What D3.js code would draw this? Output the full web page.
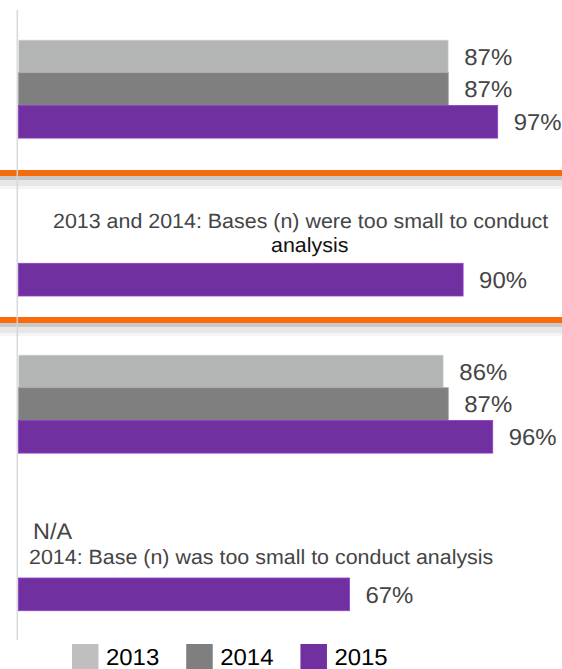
<!DOCTYPE html>
<html>
<head>
<meta charset="utf-8">
<script src="https://cdn.jsdelivr.net/npm/d3@7"></script>
<style>
  html, body { margin: 0; padding: 0; background: #ffffff; }
  svg { display: block; }
  text { font-family: "Liberation Sans", Arial, Helvetica, sans-serif; text-rendering: geometricPrecision; }
</style>
</head>
<body>
<svg id="chart" width="562" height="669"></svg>
<script>
// ---- data ----
const series = ["2013", "2014", "2015"];
const rows = ["row1", "row2", "row3", "row4"];
const values2013 = [87, null, 86, null];
const values2014 = [87, null, 87, null];
const values2015 = [97, 90, 96, 67];
const rowNotes = [
  [],
  [{ text: "2013 and 2014: Bases (n) were too small to conduct", dark: false, size: 20.6 },
   { text: "analysis", dark: true, size: 20.6 }],
  [],
  [{ text: "N/A", dark: false, size: 22.5 },
   { text: "2014: Base (n) was too small to conduct analysis", dark: false, size: 20.6 }]
];
const legendLabels = ["2013", "2014", "2015"];
const seriesColors = ["#b3b5b5", "#7f7f7f", "#7030a0"];

// ---- layout ----
const W = 562, H = 669;
const axisX = 17.3;
const barH = 32.7;
const rowBarTop = [40, 263.3, 355, 578];        // top of each row's bar block
const rowNoteLines = [                          // [x, baseline] for note lines
  [],
  [[53, 228], [271, 251.5]],
  [],
  [[33, 538.5], [29, 564]]
];
const separators = [170, 317];                  // orange rules between rows
const stretch = 1.04;                           // slight horizontal text stretch

const svg = d3.select("#chart");

const x = d3.scaleLinear().domain([0, 100]).range([18.5, 512.5]);
const color = d3.scaleOrdinal().domain(series).range(seriesColors);

const valuesBySeries = { "2013": values2013, "2014": values2014, "2015": values2015 };

// place a text with its anchor at (tx, ty) and a small horizontal stretch
function stretchedText(sel, tx, ty) {
  return sel.attr("transform", `translate(${tx},${ty}) scale(${stretch},1)`);
}

// ---- separators (orange rule with soft grey shadow below) ----
const sepG = svg.append("g");
separators.forEach(y0 => {
  sepG.append("rect").attr("x", 0).attr("y", y0 + 6).attr("width", W).attr("height", 4).attr("fill", "#c9c9c9");
  sepG.append("rect").attr("x", 0).attr("y", y0 + 10).attr("width", W).attr("height", 6).attr("fill", "#e7e7e7");
  sepG.append("rect").attr("x", 0).attr("y", y0 + 16).attr("width", W).attr("height", 3).attr("fill", "#f5f5f5");
  sepG.append("rect").attr("x", 0).attr("y", y0).attr("width", W).attr("height", 6).attr("fill", "#f66c0c");
});

// ---- vertical axis line ----
svg.append("line")
  .attr("x1", axisX).attr("x2", axisX)
  .attr("y1", 10).attr("y2", 640)
  .attr("stroke", "#d6d6d6").attr("stroke-width", 1.6)
  .attr("stroke-opacity", 0.9);

// ---- bars per row ----
rows.forEach((row, i) => {
  const present = series.filter(s => valuesBySeries[s][i] != null);
  const y = d3.scaleBand()
    .domain(present)
    .range([rowBarTop[i], rowBarTop[i] + barH * present.length])
    .paddingInner(0).paddingOuter(0);

  const data = present.map(s => ({ s, v: valuesBySeries[s][i] }));
  const g = svg.append("g").attr("class", "row " + row);

  g.selectAll("rect").data(data).join("rect")
    .attr("x", x(0))
    .attr("y", d => y(d.s))
    .attr("width", d => x(d.v) - x(0))
    .attr("height", y.bandwidth())
    .attr("fill", d => color(d.s))
    .attr("stroke", d => d3.color(color(d.s)).brighter(0.7))
    .attr("stroke-width", 0.8);

  g.selectAll("text.val").data(data).join("text")
    .attr("class", "val")
    .attr("font-size", 23)
    .attr("fill", "#454545")
    .text(d => d.v + "%")
    .each(function (d) {
      stretchedText(d3.select(this), x(d.v) + 16, y(d.s) + y.bandwidth() / 2 + 8.3);
    });

  rowNotes[i].forEach((note, k) => {
    const [nx, ny] = rowNoteLines[i][k];
    stretchedText(
      g.append("text")
        .attr("font-size", note.size)
        .attr("fill", note.dark ? "#111111" : "#454545")
        .text(note.text),
      nx, ny);
  });
});

// ---- legend ----
const legend = svg.append("g").attr("class", "legend");
let lx = 72;
legendLabels.forEach((lab, i) => {
  legend.append("rect")
    .attr("x", lx).attr("y", 644)
    .attr("width", 26.5).attr("height", 27)
    .attr("fill", i === 0 ? "#bfbfbf" : seriesColors[i]);
  const t = legend.append("text")
    .attr("font-size", 23)
    .attr("fill", "#000000")
    .text(lab);
  stretchedText(t, lx + 34, 664.5);
  const tw = t.node().getComputedTextLength() * stretch;
  lx += 34 + tw + 27;
});
</script>
</body>
</html>
